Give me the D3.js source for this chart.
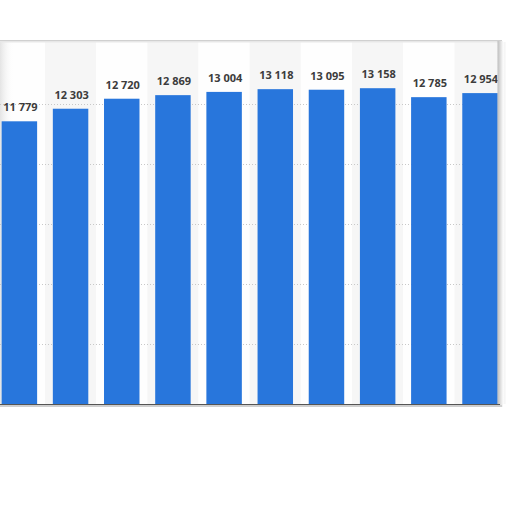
<!DOCTYPE html>
<html>
<head>
<meta charset="utf-8">
<script src="https://cdn.jsdelivr.net/npm/d3@7"></script>
<style>
  html, body { margin: 0; padding: 0; background: #fff; }
  svg { display: block; }
  .grid line { stroke: #c8c8c8; stroke-dasharray: 1,2; }
  .grid path { display: none; }
  .label { font-family: "Open Sans", sans-serif; font-weight: 700; font-size: 11px; fill: #3c3c3c; }
</style>
</head>
<body>
<div id="chart"></div>
<script>
// data
var categories = ['c1','c2','c3','c4','c5','c6','c7','c8','c9','c10'];
var values = [11779, 12303, 12720, 12869, 13004, 13118, 13095, 13158, 12785, 12954];
var yTicks = [0, 2500, 5000, 7500, 10000, 12500];

var W = 512, H = 512;
var top_ = 42, bottom = 404, left = -6.2, right = 505.6;

var svg = d3.select('#chart').append('svg')
  .attr('width', W).attr('height', H);

var defs = svg.append('defs');
var sh = defs.append('linearGradient').attr('id', 'rshadow').attr('x1', 0).attr('x2', 1);
sh.append('stop').attr('offset', 0).attr('stop-color', '#bdbdbd');
sh.append('stop').attr('offset', 1).attr('stop-color', '#fff');
var lsh = defs.append('linearGradient').attr('id', 'lshadow').attr('x1', 0).attr('x2', 1);
lsh.append('stop').attr('offset', 0).attr('stop-color', '#e4e4e4');
lsh.append('stop').attr('offset', 1).attr('stop-color', '#fff').attr('stop-opacity', 0);

var x = d3.scaleBand().domain(categories).range([left, right])
  .paddingInner(0.307).paddingOuter(0.1535);
var y = d3.scaleLinear().domain([0, 15000]).range([bottom, 44]);

// alternating column backgrounds
var step = x.step();
svg.selectAll('rect.band')
  .data(categories)
  .enter().append('rect')
  .attr('class', 'band')
  .attr('x', function(d) { return x(d) - (step - x.bandwidth()) / 2; })
  .attr('y', top_)
  .attr('width', step)
  .attr('height', bottom - top_)
  .attr('fill', function(d, i) { return i % 2 ? '#f6f6f6' : '#fefefe'; });

svg.append('rect').attr('x', 0).attr('y', top_).attr('width', 14).attr('height', bottom - top_)
  .attr('fill', 'url(#lshadow)');

// gridlines
svg.append('g')
  .attr('class', 'grid')
  .call(d3.axisLeft(y).tickValues(yTicks.slice(1)).tickSize(-500).tickFormat(''));

// bars
svg.selectAll('rect.bar')
  .data(values)
  .enter().append('rect')
  .attr('class', 'bar')
  .attr('x', function(d, i) { return x(categories[i]); })
  .attr('y', function(d) { return y(d); })
  .attr('width', x.bandwidth())
  .attr('height', function(d) { return bottom - y(d); })
  .attr('fill', '#2876dc');

var fmt = d3.formatLocale({decimal: '.', thousands: ' ', grouping: [3], currency: ['', '']}).format(',');
svg.selectAll('text.label')
  .data(values)
  .enter().append('text')
  .attr('class', 'label')
  .attr('x', function(d, i) { return x(categories[i]) + x.bandwidth() / 2 + 1; })
  .attr('y', function(d) { return y(d) - 10; })
  .attr('text-anchor', 'middle')
  .text(function(d) { return fmt(d); });

// frame: top border, right shadow, bottom axis
svg.append('rect').attr('x', 0).attr('y', top_ - 2).attr('width', 502).attr('height', 1.5).attr('fill', '#d0d0d0');
svg.append('rect').attr('x', 0).attr('y', top_ - 0.5).attr('width', 502).attr('height', 1).attr('fill', '#e8e8e8');
svg.append('rect').attr('x', 497.5).attr('y', top_ - 1).attr('width', 6).attr('height', bottom - top_ + 4)
  .attr('fill', 'url(#rshadow)');
svg.append('g')
  .attr('transform', 'translate(0,' + bottom + ')')
  .call(d3.axisBottom(x).tickSize(0).tickFormat(''))
  .call(function(g) { g.select('.domain').attr('stroke', '#555').attr('stroke-width', 1).attr('d', 'M0,0.5H500'); });
svg.append('rect').attr('x', 0).attr('y', bottom + 1).attr('width', 502).attr('height', 2).attr('fill', '#cfcfcf');
</script>
</body>
</html>
